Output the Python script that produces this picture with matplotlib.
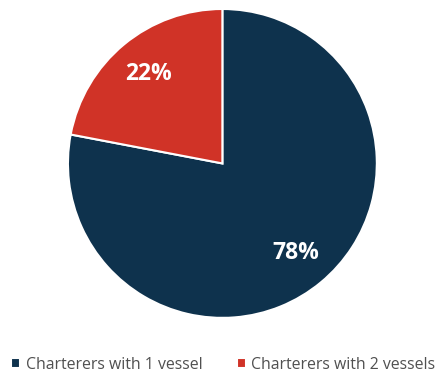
import matplotlib
matplotlib.use("Agg")
from matplotlib import pyplot as plt

labels = ["Charterers with 1 vessel", "Charterers with 2 vessels"]
shares = [78, 22]
colors = ["#0E324D", "#D03327"]

plt.rcParams['font.family'] = ['Open Sans', 'DejaVu Sans']

fig = plt.figure(figsize=(4.47, 3.74), dpi=100)
ax = fig.add_axes([0.152, 0.150, 0.691, 0.826])

wedges, texts, autotexts = ax.pie(
    shares, colors=colors, startangle=90, counterclock=False,
    autopct=lambda p: "{:.0f}%".format(p), pctdistance=0.75,
    wedgeprops=dict(edgecolor="white", linewidth=1.5),
    textprops=dict(color="white", fontsize=16.5, fontweight="bold"))
ax.set_aspect("equal")
ax.set_xlim(-1, 1)
ax.set_ylim(-1, 1)

fig.legend(wedges, labels, loc="center", bbox_to_anchor=(0.5, 0.025),
           ncol=2, frameon=False, fontsize=11.4, handlelength=0.55,
           handleheight=0.55, handletextpad=0.35, columnspacing=2.2,
           labelcolor="#505050", borderpad=0.1)

fig.savefig("out.png", dpi=100)
